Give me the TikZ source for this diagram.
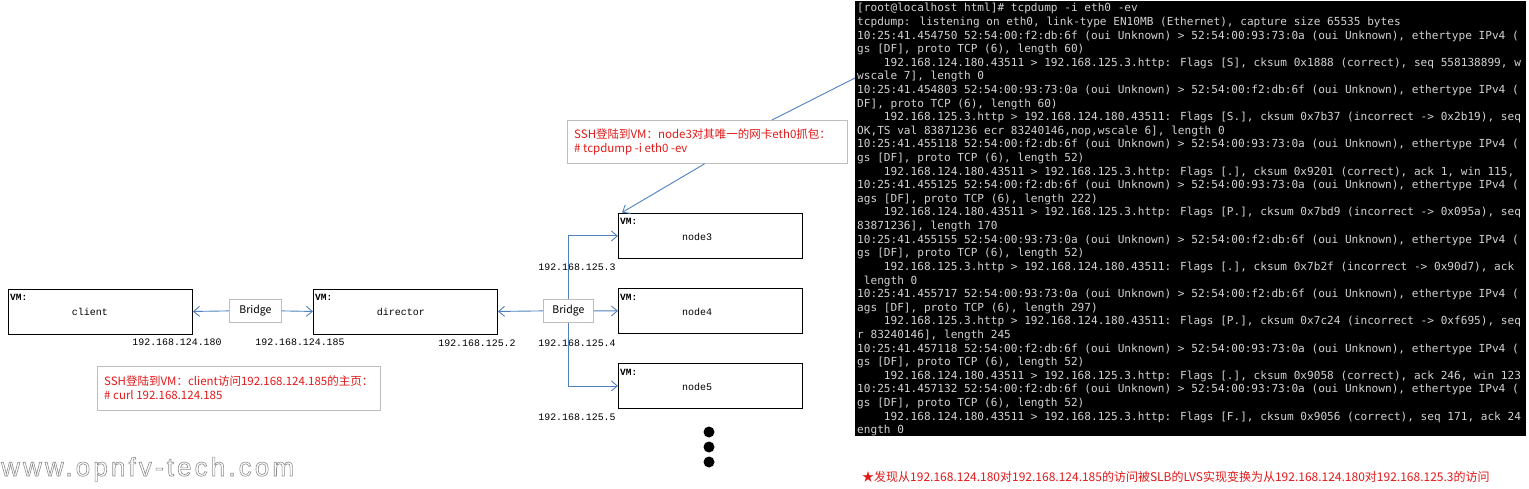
\documentclass[tikz,border=0pt]{standalone}
\usepackage{fontspec}
\usetikzlibrary{arrows.meta,calc}
\newfontfamily\cjk{Noto Sans CJK SC}
\newfontfamily\monof{Liberation Mono}
\newfontfamily\termf{DejaVu Sans Mono}
\newfontfamily\wmfont[LetterSpace=12]{Liberation Sans}
\definecolor{lineblue}{RGB}{79,129,189}
\definecolor{redtxt}{RGB}{225,25,25}
\definecolor{termgray}{RGB}{210,210,210}
\definecolor{boxgray}{RGB}{190,190,190}
\newcommand\termline[2]{\node[termtxt] (t#1) at (857,{12+13.6*(#1-1)}) {#2};}
\begin{document}
\begin{tikzpicture}[x=1pt,y=-1pt,
  vmbox/.style={draw=black, line width=0.9pt, minimum width=184pt, minimum height=45pt, anchor=north west, inner sep=0pt},
  vmtag/.style={anchor=base west, inner sep=0pt, font=\monof\bfseries\fontsize{9.5}{10}\selectfont},
  vmname/.style={inner sep=0pt, font=\monof\fontsize{10}{11}\selectfont},
  iplabel/.style={inner sep=0pt, font=\monof\fontsize{9.9}{11}\selectfont},
  bridge/.style={draw=boxgray, fill=white, line width=0.8pt, minimum height=23pt, anchor=north west, inner sep=0pt, font=\cjk\fontsize{10.5}{12}\selectfont},
  callbox/.style={draw=boxgray, line width=0.8pt, anchor=north west, inner sep=0pt},
  calltxt/.style={anchor=west, inner sep=0pt, align=left, text=redtxt, font=\cjk\fontsize{11.5}{14}\selectfont},
  arr/.style={draw=lineblue, line width=0.9pt, -{Straight Barb[length=6pt,width=10pt]}},
  conn/.style={draw=lineblue, line width=0.9pt},
  termtxt/.style={anchor=base west, inner sep=0pt, text=termgray, font=\termf\fontsize{11.1}{13}\selectfont},
  dot/.style={circle, fill=black, minimum size=11pt, inner sep=0pt}]
\useasboundingbox (0,0) rectangle (1529,489);

% terminal
\node[fill=black, minimum width=671pt, minimum height=435pt, anchor=north west, inner sep=0pt] (term) at (855,1) {};
\begin{scope}
\clip (855,1) rectangle (1526,436);
\termline{1}{[root@localhost html]\# tcpdump -i eth0 -ev}
\termline{2}{tcpdump: listening on eth0, link-type EN10MB (Ethernet), capture size 65535 bytes}
\termline{3}{10:25:41.454750 52:54:00:f2:db:6f (oui Unknown) > 52:54:00:93:73:0a (oui Unknown), ethertype IPv4 (}
\termline{4}{gs [DF], proto TCP (6), length 60)}
\termline{5}{\phantom{0000}192.168.124.180.43511 > 192.168.125.3.http: Flags [S], cksum 0x1888 (correct), seq 558138899, w}
\termline{6}{wscale 7], length 0}
\termline{7}{10:25:41.454803 52:54:00:93:73:0a (oui Unknown) > 52:54:00:f2:db:6f (oui Unknown), ethertype IPv4 (}
\termline{8}{DF], proto TCP (6), length 60)}
\termline{9}{\phantom{0000}192.168.125.3.http > 192.168.124.180.43511: Flags [S.], cksum 0x7b37 (incorrect -> 0x2b19), seq}
\termline{10}{OK,TS val 83871236 ecr 83240146,nop,wscale 6], length 0}
\termline{11}{10:25:41.455118 52:54:00:f2:db:6f (oui Unknown) > 52:54:00:93:73:0a (oui Unknown), ethertype IPv4 (}
\termline{12}{gs [DF], proto TCP (6), length 52)}
\termline{13}{\phantom{0000}192.168.124.180.43511 > 192.168.125.3.http: Flags [.], cksum 0x9201 (correct), ack 1, win 115,}
\termline{14}{10:25:41.455125 52:54:00:f2:db:6f (oui Unknown) > 52:54:00:93:73:0a (oui Unknown), ethertype IPv4 (}
\termline{15}{ags [DF], proto TCP (6), length 222)}
\termline{16}{\phantom{0000}192.168.124.180.43511 > 192.168.125.3.http: Flags [P.], cksum 0x7bd9 (incorrect -> 0x095a), seq}
\termline{17}{83871236], length 170}
\termline{18}{10:25:41.455155 52:54:00:93:73:0a (oui Unknown) > 52:54:00:f2:db:6f (oui Unknown), ethertype IPv4 (}
\termline{19}{gs [DF], proto TCP (6), length 52)}
\termline{20}{\phantom{0000}192.168.125.3.http > 192.168.124.180.43511: Flags [.], cksum 0x7b2f (incorrect -> 0x90d7), ack}
\termline{21}{\phantom{0}length 0}
\termline{22}{10:25:41.455717 52:54:00:93:73:0a (oui Unknown) > 52:54:00:f2:db:6f (oui Unknown), ethertype IPv4 (}
\termline{23}{ags [DF], proto TCP (6), length 297)}
\termline{24}{\phantom{0000}192.168.125.3.http > 192.168.124.180.43511: Flags [P.], cksum 0x7c24 (incorrect -> 0xf695), seq}
\termline{25}{r 83240146], length 245}
\termline{26}{10:25:41.457118 52:54:00:f2:db:6f (oui Unknown) > 52:54:00:93:73:0a (oui Unknown), ethertype IPv4 (}
\termline{27}{gs [DF], proto TCP (6), length 52)}
\termline{28}{\phantom{0000}192.168.124.180.43511 > 192.168.125.3.http: Flags [.], cksum 0x9058 (correct), ack 246, win 123}
\termline{29}{10:25:41.457132 52:54:00:f2:db:6f (oui Unknown) > 52:54:00:93:73:0a (oui Unknown), ethertype IPv4 (}
\termline{30}{gs [DF], proto TCP (6), length 52)}
\termline{31}{\phantom{0000}192.168.124.180.43511 > 192.168.125.3.http: Flags [F.], cksum 0x9056 (correct), seq 171, ack 24}
\termline{32}{ength 0}
\end{scope}

% VM boxes
\node[vmbox] (client) at (8,288.5) {};
\node[vmbox] (director) at (313,288.5) {};
\node[vmbox] (n3) at (618,213) {};
\node[vmbox] (n4) at (618,288) {};
\node[vmbox] (n5) at (618,363) {};
\node[vmtag] (vc) at (10,300) {VM:};
\node[vmtag] (vd) at (315,300) {VM:};
\node[vmtag] (v3) at (620,225) {VM:};
\node[vmtag] (v4) at (620,300) {VM:};
\node[vmtag] (v5) at (620,375) {VM:};
\node[vmname] (lc) at (90,312) {client};
\node[vmname] (ld) at (401,312) {director};
\node[vmname] (l3) at (697,237) {node3};
\node[vmname] (l4) at (697,312) {node4};
\node[vmname] (l5) at (697,387) {node5};

% IP labels
\node[iplabel] (ip1) at (177,342) {192.168.124.180};
\node[iplabel] (ip2) at (300,342) {192.168.124.185};
\node[iplabel] (ip3) at (477,343) {192.168.125.2};
\node[iplabel] (ip4) at (577,267) {192.168.125.3};
\node[iplabel] (ip5) at (577,343) {192.168.125.4};
\node[iplabel] (ip6) at (577,417) {192.168.125.5};

% bridges
\node[bridge, minimum width=52pt] (br1) at (229,299) {Bridge};
\node[bridge, minimum width=50pt] (br2) at (543,299) {Bridge};
\draw[arr] (br2.north) |- (n3.west);
\draw[arr] (br2.south) |- (n5.west);
\node[bridge, minimum width=50pt] (br2top) at (543,299) {Bridge};
\draw[arr] (br1.west) -- (client.east);
\draw[arr] (br1.east) -- (director.west);
\draw[arr] (br2.west) -- (director.east);
\draw[arr] (br2.east) -- (n4.west);

% callouts
\node[callbox, minimum width=283pt, minimum height=44pt] (c1) at (97,366) {};
\node[calltxt] (c1t) at (104,388) {SSH登陆到VM：client访问192.168.124.185的主页：\\\# curl 192.168.124.185};
\node[callbox, minimum width=280pt, minimum height=43pt] (c2) at (567,120) {};
\node[calltxt] (c2t) at (574,141.5) {SSH登陆到VM：node3对其唯一的网卡eth0抓包：\\\# tcpdump -i eth0 -ev};
\coordinate (tp) at (855,78);
\draw[conn] ($(c2.north west)!0.73!(c2.north east)$) -- (tp);
\draw[arr] ($(c2.south west)!0.49!(c2.south east)$) -- ($(n3.north west)+(4,-0.5)$);

% dots
\node[dot] (d1) at (709,432) {};
\node[dot] (d2) at (709,447) {};
\node[dot] (d3) at (709,462) {};

% watermark
\node[anchor=base west, inner sep=0pt, text=black!45] (wm) at (1,476) {\wmfont\fontsize{26}{26}\selectfont\special{pdf:literal direct 1 Tr 0.6 w}www.opnfv-tech.com\special{pdf:literal direct 0 Tr}};

% note
\node[anchor=west, inner sep=0pt, text=redtxt, font=\cjk\fontsize{12}{13}\selectfont] (note) at (862,477) {★发现从192.168.124.180对192.168.124.185的访问被SLB的LVS实现变换为从192.168.124.180对192.168.125.3的访问};
\end{tikzpicture}
\end{document}
